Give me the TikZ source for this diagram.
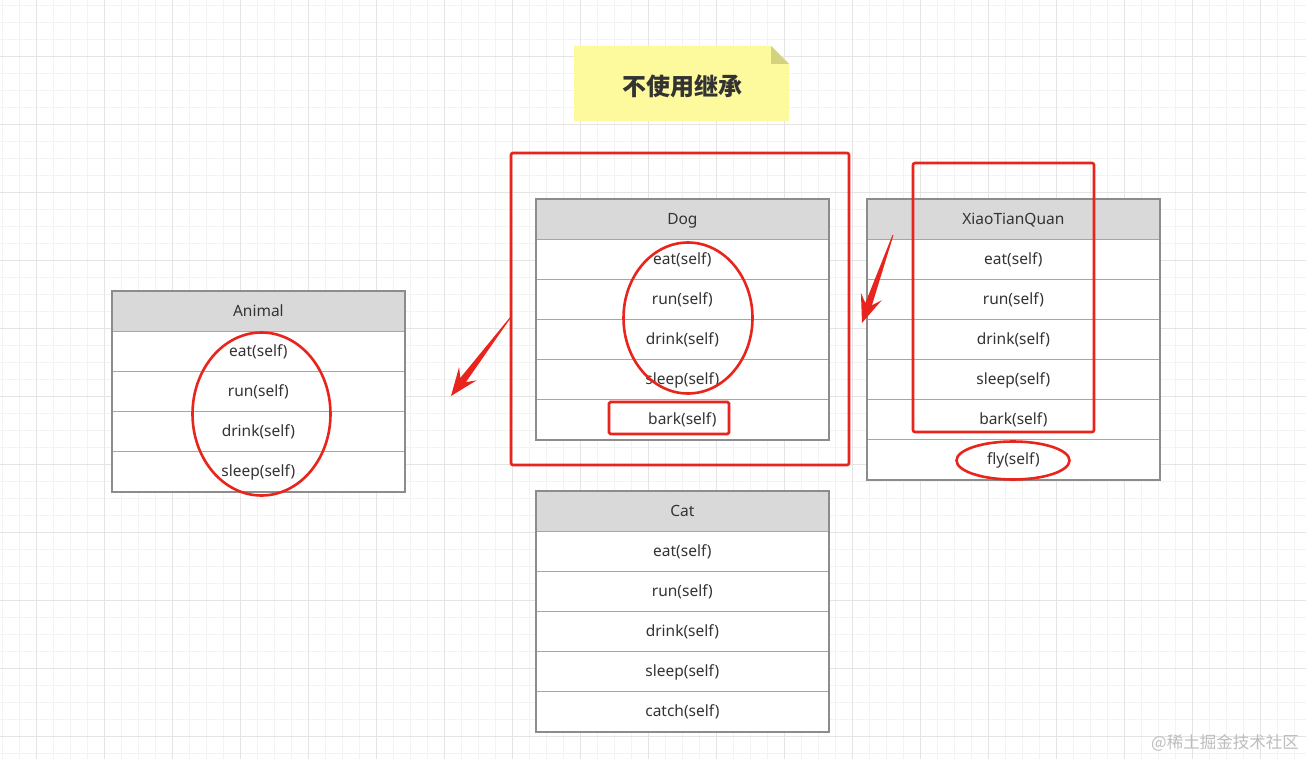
\documentclass[tikz,border=0pt]{standalone}
\usepackage{fontspec}
\setmainfont{Noto Sans}
\newfontfamily\cjk{Noto Sans CJK SC}
\usetikzlibrary{calc}
\definecolor{minorgrid}{HTML}{F3F3F3}
\definecolor{majorgrid}{HTML}{E4E4E4}
\definecolor{tblgray}{HTML}{8C8C8C}
\definecolor{rowline}{HTML}{A6A6A6}
\definecolor{hdrgray}{HTML}{D9D9D9}
\definecolor{txt}{HTML}{333333}
\definecolor{mark}{HTML}{E8241C}
\definecolor{notey}{HTML}{FDFA9E}
\definecolor{notefold}{HTML}{D4D27E}
\definecolor{wm}{HTML}{BDBDBD}
\tikzset{
  cell/.style={draw=rowline, line width=0.8pt, minimum width=292pt, minimum height=40pt,
    inner sep=0pt, anchor=north west, font=\fontsize{15.5}{17}\selectfont, text=txt,
    text height=14pt, text depth=3pt},
  hdr/.style={cell, fill=hdrgray},
  rowc/.style={cell, fill=white},
  frame/.style={draw=tblgray, line width=2pt},
  redline/.style={draw=mark, line width=2.6pt},
  redarrow/.style={fill=mark, draw=none},
}
\newcommand\umltab[6]{% id, x, y, title, n, rows
  \node[hdr] (#1-h) at (#2,#3) {#4};
  \foreach \t [count=\i] in {#6} {
    \node[rowc] (#1-\i) at ({#2},{#3+40*\i}) {\t};
  }
  \draw[frame] (#1-h.north west) rectangle (#1-#5.south east);
}
\newcommand\fatarrow[2]{% tail, tip
  \fill[redarrow]
    (#1)
    -- ($(#1)!0.5pt!90:(#2)$)
    -- ($($(#2)!20pt!(#1)$)!3.5pt!90:(#2)$)
    -- ($($(#2)!28pt!(#1)$)!11pt!90:(#2)$)
    -- (#2)
    -- ($($(#2)!28pt!(#1)$)!11pt!-90:(#2)$)
    -- ($($(#2)!20pt!(#1)$)!3.5pt!-90:(#2)$)
    -- ($(#1)!0.5pt!-90:(#2)$)
    -- cycle;
}
\begin{document}
\begin{tikzpicture}[x=1pt,y=-1pt]
\useasboundingbox (0,0) rectangle (1306,759);
\fill[white] (0,0) rectangle (1306,759);
% grid
\foreach \x in {2,19,...,1306} \draw[minorgrid, line width=0.8pt] (\x,0) -- (\x,759);
\foreach \y in {5,22,...,759} \draw[minorgrid, line width=0.8pt] (0,\y) -- (1306,\y);
\foreach \x in {36,104,...,1306} \draw[majorgrid, line width=0.8pt] (\x,0) -- (\x,759);
\foreach \y in {56,124,...,759} \draw[majorgrid, line width=0.8pt] (0,\y) -- (1306,\y);

% title note
\fill[notey] (574,46) -- (771,46) -- (789,64) -- (789,121) -- (574,121) -- cycle;
\fill[notefold] (771,46) -- (789,64) -- (771,64) -- cycle;
\node[font=\cjk\bfseries\fontsize{24}{26}\selectfont, text=txt] (title) at (682,86) {不使用继承};

% tables
\umltab{animal}{112}{291}{Animal}{4}{eat(self),run(self),drink(self),sleep(self)}
\umltab{dog}{536}{199}{Dog}{5}{eat(self),run(self),drink(self),sleep(self),bark(self)}
\umltab{xtq}{867}{199}{XiaoTianQuan}{6}{eat(self),run(self),drink(self),sleep(self),bark(self),fly(self)}
\umltab{cat}{536}{491}{Cat}{5}{eat(self),run(self),drink(self),sleep(self),catch(self)}

% red marks
\draw[redline, rounded corners=2pt] (511,153) rectangle (849,465);
\draw[redline, rounded corners=2pt] (913,163) rectangle (1094,432);
\draw[redline, rounded corners=1.5pt] (609,402) rectangle (729,434);
\draw[redline] (261.5,414) ellipse [x radius=69pt, y radius=81.5pt];
\draw[redline] (688,318) ellipse [x radius=64.5pt, y radius=75.5pt];
\draw[redline] (1013,460.5) ellipse [x radius=56.5pt, y radius=19pt];

% arrows
\coordinate (a1s) at (510,318);
\coordinate (a1t) at (451,396);
\coordinate (a2s) at (893,235);
\coordinate (a2t) at (862,323);
\fatarrow{a1s}{a1t}
\fatarrow{a2s}{a2t}

% watermark
\node[font=\cjk\fontsize{16.5}{18}\selectfont, text=wm, anchor=east, inner sep=0pt] (wmark) at (1299,743) {@稀土掘金技术社区};
\end{tikzpicture}
\end{document}
